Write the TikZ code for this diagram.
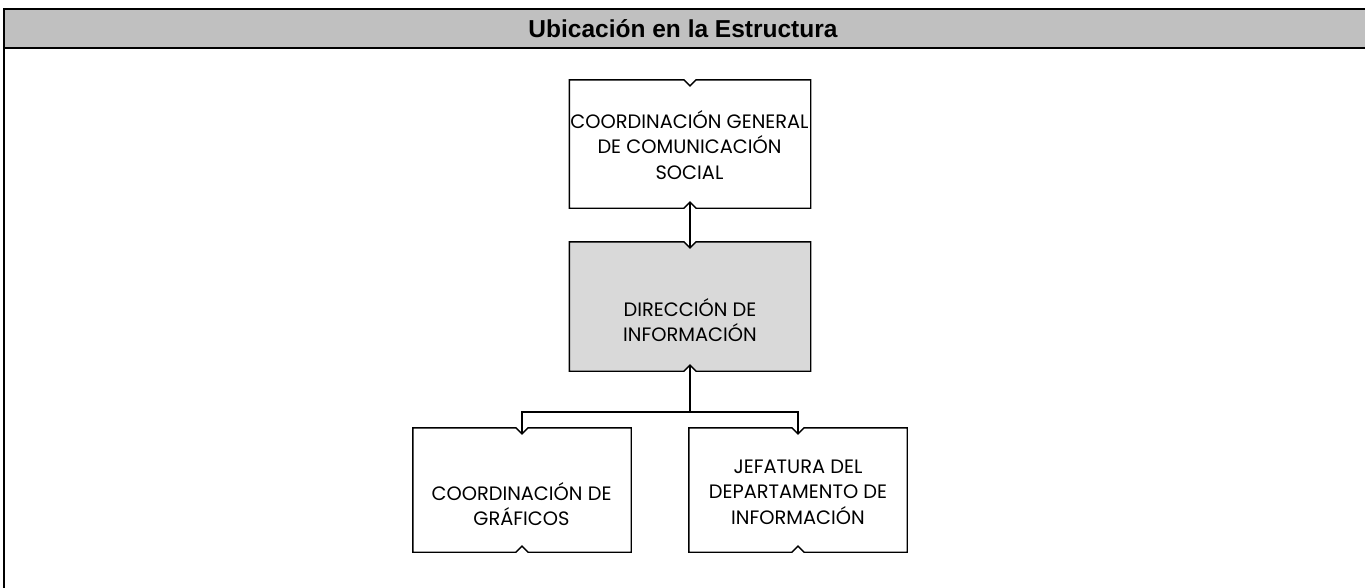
\documentclass[tikz,border=0pt]{standalone}
\usepackage{fontspec}
\setmainfont{Liberation Sans}
\newfontfamily\gothic{Poppins}
\usetikzlibrary{calc}
\definecolor{headgray}{HTML}{C0C0C0}
\definecolor{boxgray}{HTML}{D9D9D9}
\tikzset{
  frameline/.style={line width=2pt, black},
  boxline/.style={line width=1.4pt, black, line join=miter},
  boxn/.style={draw=none, inner sep=0pt, minimum width=241pt, minimum height=128pt},
  smallboxn/.style={draw=none, inner sep=0pt, minimum width=218pt, minimum height=124pt},
  lbl/.style={align=center, inner sep=0pt, font=\gothic\fontsize{19.4}{25.5}\selectfont},
  conn/.style={line width=1.4pt, black},
}
\newcommand\notchbox[2]{%
  \filldraw[boxline, fill=#2] (#1.north west) -- ($(#1.north)+(-6,0)$) -- ($(#1.north)+(0,6)$) coordinate (#1-tn)
    -- ($(#1.north)+(6,0)$) -- (#1.north east) -- (#1.south east) -- ($(#1.south)+(6,0)$)
    -- ($(#1.south)+(0,-6)$) coordinate (#1-bn) -- ($(#1.south)+(-6,0)$) -- (#1.south west) -- cycle;}
\begin{document}
\begin{tikzpicture}[x=1pt,y=-1pt]
\useasboundingbox (0,0) rectangle (1365,587);
% header band and frame
\fill[headgray] (4,9) rectangle (1366,48);
\draw[frameline] (1367,9) -- (4,9) -- (4,588);
\draw[frameline] (4,48) -- (1367,48);
\node[font=\bfseries\fontsize{24.5}{28}\selectfont] (title) at (683,28.5) {Ubicación en la Estructura};
% boxes
\node[boxn] (top) at (690,144) {};
\node[boxn, minimum height=129pt] (mid) at (690,306.5) {};
\node[smallboxn] (bl) at (522,490) {};
\node[smallboxn] (br) at (798,490) {};
\notchbox{top}{white}
\notchbox{mid}{boxgray}
\notchbox{bl}{white}
\notchbox{br}{white}
% labels
\node[lbl] (toptxt) at (689.5,145) {COORDINACIÓN GENERAL\\DE COMUNICACIÓN\\SOCIAL};
\node[lbl] (midtxt) at (690,320) {DIRECCIÓN DE\\INFORMACIÓN};
\node[lbl] (bltxt) at (521.5,504) {COORDINACIÓN DE\\GRÁFICOS};
\node[lbl] (brtxt) at (798,492) {JEFATURA DEL\\DEPARTAMENTO DE\\INFORMACIÓN};
% connectors
\coordinate (j) at (mid-bn |- 0,412);
\draw[conn] (top-bn) -- (mid-tn);
\draw[conn] (mid-bn) -- (j);
\draw[conn] (bl-tn) |- (j) -| (br-tn);
\end{tikzpicture}
\end{document}
